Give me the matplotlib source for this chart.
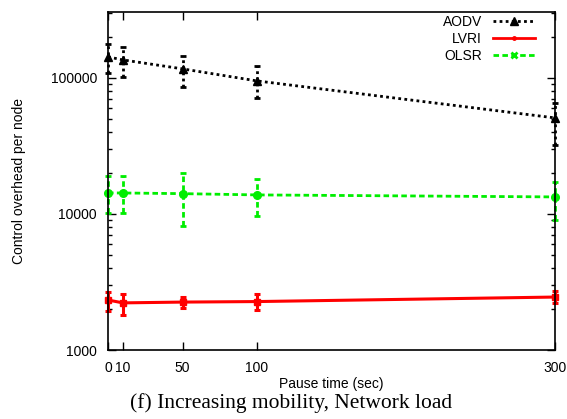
import matplotlib
matplotlib.use("Agg")
import matplotlib.pyplot as plt
from matplotlib.lines import Line2D
from matplotlib.ticker import LogLocator, NullFormatter, FixedLocator

# Pause time (sec)
pause = [0, 10, 50, 100, 300]

# Control overhead per node (mean, low, high)
aodv = [142700, 135600, 116500, 95000, 50800]
aodv_lo = [108800, 101700, 85900, 71300, 32100]
aodv_hi = [177900, 169000, 145000, 122500, 65500]

lvri = [2330, 2220, 2250, 2270, 2450]
lvri_lo = [1940, 1810, 2040, 1970, 2220]
lvri_hi = [2670, 2580, 2450, 2580, 2710]

olsr = [14260, 14260, 14100, 13800, 13340]
olsr_lo = [10170, 10170, 8160, 9670, 9030]
olsr_hi = [19000, 19000, 20000, 18100, 17200]

x_ticks = [0, 10, 50, 100, 300]
x_tick_labels = ["0", "10", "50", "100", "300"]

plt.rcParams["font.family"] = ["Liberation Sans", "DejaVu Sans"]

fig = plt.figure(figsize=(5.67, 4.19), dpi=100)
ax = fig.add_axes([108 / 567, 1 - 350 / 419, 447 / 567, 338 / 419])


def draw(y, lo, hi, color, ls, marker, ms, lw):
    err = [[m - l for m, l in zip(y, lo)], [h - m for m, h in zip(y, hi)]]
    line, caps, bars = ax.errorbar(pause, y, yerr=err, color=color, ls=ls, lw=lw,
                                   marker=marker, ms=ms, capsize=2.5, capthick=lw,
                                   elinewidth=lw)
    line.set_clip_on(False)
    for c in caps:
        c.set_clip_on(False)
    for b in bars:
        b.set_linestyle(ls)
        b.set_clip_on(False)


draw(aodv, aodv_lo, aodv_hi, "black", (0, (1, 1.2)), "^", 6, 2)
draw(lvri, lvri_lo, lvri_hi, "#ff0000", "-", "s", 5, 2.2)
draw(olsr, olsr_lo, olsr_hi, "#00ee00", (0, (2, 1.2)), "o", 5.5, 2)

ax.set_yscale("log")
ax.set_xlim(0, 300)
ax.set_ylim(1000, 305000)
ax.xaxis.set_major_locator(FixedLocator(x_ticks))
ax.set_xticklabels(x_tick_labels)
ax.yaxis.set_major_locator(FixedLocator([1000, 10000, 100000]))
ax.set_yticklabels(["1000", "10000", "100000"])
ax.yaxis.set_minor_locator(LogLocator(base=10, subs=range(2, 10)))
ax.yaxis.set_minor_formatter(NullFormatter())
ax.tick_params(which="both", direction="in", top=True, right=True,
               labelsize=10, pad=8, width=1)
ax.tick_params(which="major", length=6)
ax.tick_params(which="minor", length=3)
for s in ax.spines.values():
    s.set_linewidth(1.2)

ax.set_xlabel("Pause time (sec)", fontsize=10, labelpad=1)
ax.set_ylabel("Control overhead per node", fontsize=10, labelpad=18)

handles = [
    Line2D([], [], color="black", ls=(0, (1, 1.2)), lw=2, marker="^", ms=6),
    Line2D([], [], color="#ff0000", ls="-", lw=2, marker=".", ms=5),
    Line2D([], [], color="#00ee00", ls=(0, (2, 1.2)), lw=2, marker="x", ms=5,
           mew=2),
]
ax.legend(handles, ["AODV", "LVRI", "OLSR"], loc="upper right", frameon=False,
          markerfirst=False, fontsize=10, handlelength=3.0, labelspacing=0.2,
          borderaxespad=0, borderpad=0, handletextpad=0.8,
          bbox_to_anchor=((535 - 108) / 447, (350 - 15) / 338))

fig.text(0.513, 1 - 403 / 419, "(f) Increasing mobility, Network load",
         ha="center", va="center", fontsize=15.5, family="Liberation Serif")

fig.savefig("out.png", dpi=100)
